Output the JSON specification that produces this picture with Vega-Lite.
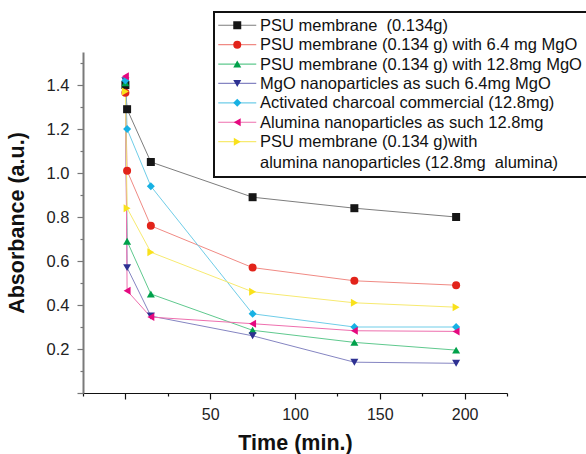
{
  "$schema": "https://vega.github.io/schema/vega-lite/v6.json",
  "width": 424,
  "height": 341,
  "autosize": {"type": "none"},
  "padding": {"left": 83, "top": 52, "right": 79, "bottom": 61},
  "background": "white",
  "config": {
    "view": {"stroke": null},
    "font": "Liberation Sans",
    "axis": {"labelFont": "Liberation Sans", "titleFont": "Liberation Sans", "grid": false}
  },
  "data": {
    "values": [
      {"s": "PSU membrane \u00a0(0.134g)", "t": 0, "a": 1.40},
      {"s": "PSU membrane \u00a0(0.134g)", "t": 1, "a": 1.29},
      {"s": "PSU membrane \u00a0(0.134g)", "t": 15, "a": 1.05},
      {"s": "PSU membrane \u00a0(0.134g)", "t": 75, "a": 0.89},
      {"s": "PSU membrane \u00a0(0.134g)", "t": 135, "a": 0.84},
      {"s": "PSU membrane \u00a0(0.134g)", "t": 195, "a": 0.80},
      {"s": "PSU membrane (0.134 g) with 6.4 mg MgO", "t": 0, "a": 1.365},
      {"s": "PSU membrane (0.134 g) with 6.4 mg MgO", "t": 1, "a": 1.01},
      {"s": "PSU membrane (0.134 g) with 6.4 mg MgO", "t": 15, "a": 0.76},
      {"s": "PSU membrane (0.134 g) with 6.4 mg MgO", "t": 75, "a": 0.57},
      {"s": "PSU membrane (0.134 g) with 6.4 mg MgO", "t": 135, "a": 0.51},
      {"s": "PSU membrane (0.134 g) with 6.4 mg MgO", "t": 195, "a": 0.49},
      {"s": "PSU membrane (0.134 g) with 12.8mg MgO", "t": 0, "a": 1.41},
      {"s": "PSU membrane (0.134 g) with 12.8mg MgO", "t": 1, "a": 0.69},
      {"s": "PSU membrane (0.134 g) with 12.8mg MgO", "t": 15, "a": 0.45},
      {"s": "PSU membrane (0.134 g) with 12.8mg MgO", "t": 75, "a": 0.285},
      {"s": "PSU membrane (0.134 g) with 12.8mg MgO", "t": 135, "a": 0.23},
      {"s": "PSU membrane (0.134 g) with 12.8mg MgO", "t": 195, "a": 0.195},
      {"s": "MgO nanoparticles as such 6.4mg MgO", "t": 0, "a": 1.42},
      {"s": "MgO nanoparticles as such 6.4mg MgO", "t": 1, "a": 0.57},
      {"s": "MgO nanoparticles as such 6.4mg MgO", "t": 15, "a": 0.35},
      {"s": "MgO nanoparticles as such 6.4mg MgO", "t": 75, "a": 0.26},
      {"s": "MgO nanoparticles as such 6.4mg MgO", "t": 135, "a": 0.14},
      {"s": "MgO nanoparticles as such 6.4mg MgO", "t": 195, "a": 0.135},
      {"s": "Activated charcoal commercial (12.8mg)", "t": 0, "a": 1.42},
      {"s": "Activated charcoal commercial (12.8mg)", "t": 1, "a": 1.20},
      {"s": "Activated charcoal commercial (12.8mg)", "t": 15, "a": 0.94},
      {"s": "Activated charcoal commercial (12.8mg)", "t": 75, "a": 0.36},
      {"s": "Activated charcoal commercial (12.8mg)", "t": 135, "a": 0.30},
      {"s": "Activated charcoal commercial (12.8mg)", "t": 195, "a": 0.30},
      {"s": "Alumina nanoparticles as such 12.8mg", "t": 0, "a": 1.44},
      {"s": "Alumina nanoparticles as such 12.8mg", "t": 1, "a": 0.465},
      {"s": "Alumina nanoparticles as such 12.8mg", "t": 15, "a": 0.345},
      {"s": "Alumina nanoparticles as such 12.8mg", "t": 75, "a": 0.315},
      {"s": "Alumina nanoparticles as such 12.8mg", "t": 135, "a": 0.283},
      {"s": "Alumina nanoparticles as such 12.8mg", "t": 195, "a": 0.28},
      {"s": "PSU membrane (0.134 g)with alumina nanoparticles (12.8mg  alumina)", "t": 0, "a": 1.37},
      {"s": "PSU membrane (0.134 g)with alumina nanoparticles (12.8mg  alumina)", "t": 1, "a": 0.84},
      {"s": "PSU membrane (0.134 g)with alumina nanoparticles (12.8mg  alumina)", "t": 15, "a": 0.64},
      {"s": "PSU membrane (0.134 g)with alumina nanoparticles (12.8mg  alumina)", "t": 75, "a": 0.46},
      {"s": "PSU membrane (0.134 g)with alumina nanoparticles (12.8mg  alumina)", "t": 135, "a": 0.41},
      {"s": "PSU membrane (0.134 g)with alumina nanoparticles (12.8mg  alumina)", "t": 195, "a": 0.39}
    ]
  },
  "resolve": {
    "scale": {"color": "independent", "shape": "independent"},
    "axis": {"x": "independent", "y": "independent"}
  },
  "layer": [
    {
      "mark": {"type": "line", "strokeWidth": 1},
      "encoding": {
        "x": {"field": "t", "type": "quantitative",
          "scale": {"domain": [-25, 225], "nice": false, "zero": false},
          "axis": {"orient": "bottom", "values": [0, 50, 100, 150, 200], "labelExpr": "datum.value == 0 ? '' : datum.label",
            "tickSize": 6, "tickColor": "#111", "domainColor": "#111", "domainWidth": 1.2, "tickWidth": 1.2,
            "labelFontSize": 16, "labelColor": "#222", "labelPadding": 7,
            "title": "Time (min.)", "titleFontSize": 21.5, "titleFontWeight": "bold", "titleColor": "#111", "titlePadding": 10}},
        "y": {"field": "a", "type": "quantitative",
          "scale": {"domain": [0, 1.55], "nice": false},
          "axis": {"orient": "left", "values": [0, 0.2, 0.4, 0.6, 0.8, 1.0, 1.2, 1.4], "format": ".1f",
            "labelExpr": "datum.value == 0 ? '' : datum.label",
            "tickSize": 6, "tickColor": "#777", "domainColor": "#7a7a7a", "domainWidth": 2, "tickWidth": 1.2,
            "labelFontSize": 16.5, "labelColor": "#222", "labelPadding": 8,
            "title": "Absorbance (a.u.)", "titleFontSize": 21.5, "titleFontWeight": "bold", "titleColor": "#111", "titlePadding": 18}},
        "color": {"field": "s", "type": "nominal",
          "scale": {"domain": ["PSU membrane \u00a0(0.134g)", "PSU membrane (0.134 g) with 6.4 mg MgO", "PSU membrane (0.134 g) with 12.8mg MgO", "MgO nanoparticles as such 6.4mg MgO", "Activated charcoal commercial (12.8mg)", "Alumina nanoparticles as such 12.8mg", "PSU membrane (0.134 g)with alumina nanoparticles (12.8mg  alumina)"],
            "range": ["#7d7d7d", "#f08a84", "#5fc98e", "#8585c2", "#6fcde8", "#ee6fae", "#f7ea70"]},
          "legend": {"title": null, "orient": "none", "legendX": 131, "legendY": -40, "padding": 5,
            "strokeColor": "#111", "cornerRadius": 0,
            "labelFont": "Liberation Sans", "labelFontSize": 16.5, "labelColor": "#111", "labelOpacity": 0, "labelLimit": 400,
            "symbolType": "M-4.75,0H4.75", "symbolSize": 64, "symbolOpacity": 1, "symbolStrokeWidth": 1.2,
            "symbolOffset": 10, "labelOffset": 14.5, "rowPadding": 1.4,
            "labelBaseline": "alphabetic",
            "labelExpr": "datum.label == 'PSU membrane (0.134 g)with alumina nanoparticles (12.8mg  alumina)' ? ['PSU membrane (0.134 g)with', 'alumina nanoparticles (12.8mg \u00a0alumina)'] : datum.label",
            "encode": {"legend": {"update": {"strokeWidth": {"value": 2}}}, "labels": {"update": {"dy": {"value": 5.5}, "lineHeight": {"value": 20.5}}}}}},
        "detail": {"field": "s"},
        "order": {"field": "t", "type": "quantitative"}
      }
    },
    {
      "mark": {"type": "point", "filled": true, "opacity": 1, "size": 64},
      "encoding": {
        "x": {"field": "t", "type": "quantitative",
          "axis": {"orient": "bottom", "values": [-25, 25, 75, 125, 175, 225], "labels": false, "domain": false, "tickSize": 3, "tickColor": "#111", "tickWidth": 1.2, "title": null}},
        "y": {"field": "a", "type": "quantitative",
          "axis": {"orient": "left", "values": [0.1, 0.3, 0.5, 0.7, 0.9, 1.1, 1.3, 1.5], "labels": false, "domain": false, "tickSize": 3, "tickColor": "#777", "tickWidth": 1.2, "title": null}},
        "color": {"field": "s", "type": "nominal",
          "scale": {"domain": ["PSU membrane \u00a0(0.134g)", "PSU membrane (0.134 g) with 6.4 mg MgO", "PSU membrane (0.134 g) with 12.8mg MgO", "MgO nanoparticles as such 6.4mg MgO", "Activated charcoal commercial (12.8mg)", "Alumina nanoparticles as such 12.8mg", "PSU membrane (0.134 g)with alumina nanoparticles (12.8mg  alumina)"],
            "range": ["#161616", "#e2231a", "#00a14b", "#2e3192", "#17b1e3", "#e5097f", "#f9e11b"]},
          "legend": {"title": null, "orient": "none", "legendX": 131, "legendY": -40, "padding": 5,
            "cornerRadius": 0,
            "labelFont": "Liberation Sans", "labelFontSize": 16.5, "labelColor": "#111", "labelLimit": 400,
            "symbolSize": 64, "symbolOpacity": 1, "symbolStrokeWidth": 0,
            "symbolOffset": 10, "labelOffset": 14.5, "rowPadding": 1.4,
            "labelBaseline": "alphabetic",
            "labelExpr": "datum.label == 'PSU membrane (0.134 g)with alumina nanoparticles (12.8mg  alumina)' ? ['PSU membrane (0.134 g)with', 'alumina nanoparticles (12.8mg \u00a0alumina)'] : datum.label",
            "encode": {"labels": {"update": {"dy": {"value": 5.5}, "lineHeight": {"value": 20.5}}}}}},
        "shape": {"field": "s", "type": "nominal",
          "scale": {"domain": ["PSU membrane \u00a0(0.134g)", "PSU membrane (0.134 g) with 6.4 mg MgO", "PSU membrane (0.134 g) with 12.8mg MgO", "MgO nanoparticles as such 6.4mg MgO", "Activated charcoal commercial (12.8mg)", "Alumina nanoparticles as such 12.8mg", "PSU membrane (0.134 g)with alumina nanoparticles (12.8mg  alumina)"],
            "range": ["square", "circle", "triangle-up", "triangle-down", "diamond", "triangle-left", "triangle-right"]},
          "legend": {"title": null, "orient": "none", "legendX": 131, "legendY": -40, "padding": 5,
            "cornerRadius": 0,
            "labelFont": "Liberation Sans", "labelFontSize": 16.5, "labelColor": "#111", "labelLimit": 400,
            "symbolSize": 64, "symbolOpacity": 1, "symbolStrokeWidth": 0,
            "symbolOffset": 10, "labelOffset": 14.5, "rowPadding": 1.4,
            "labelBaseline": "alphabetic",
            "labelExpr": "datum.label == 'PSU membrane (0.134 g)with alumina nanoparticles (12.8mg  alumina)' ? ['PSU membrane (0.134 g)with', 'alumina nanoparticles (12.8mg \u00a0alumina)'] : datum.label",
            "encode": {"labels": {"update": {"dy": {"value": 5.5}, "lineHeight": {"value": 20.5}}}}}}
      }
    }
  ]
}
